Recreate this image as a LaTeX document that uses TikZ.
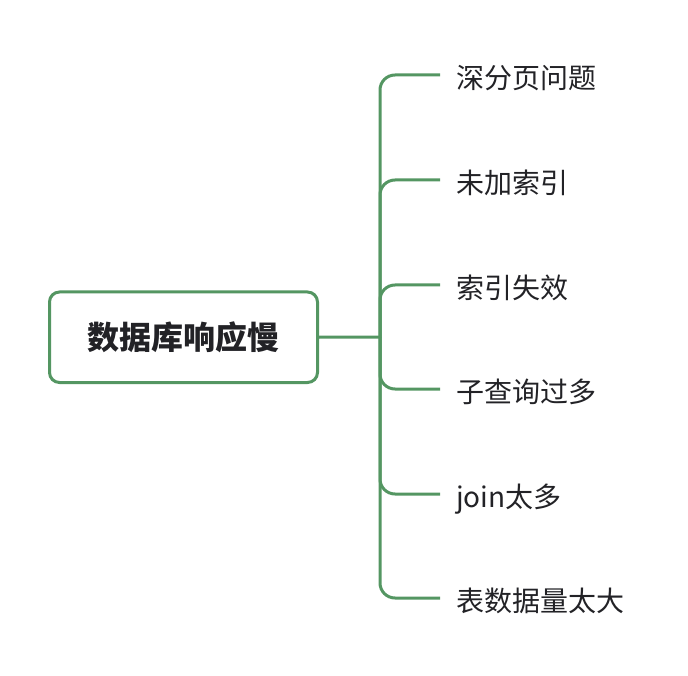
\documentclass[tikz,border=0pt]{standalone}
\usepackage{fontspec}
\newfontfamily\cjk{Noto Sans CJK SC}
\definecolor{branch}{RGB}{84,150,98}
\definecolor{ink}{RGB}{34,34,38}
\begin{document}
\begin{tikzpicture}[x=1pt,y=-1pt,
  rootbox/.style={draw=branch, line width=3pt, rounded corners=10pt, fill=white,
    minimum width=268pt, minimum height=90.5pt, inner sep=0pt,
    font=\cjk\bfseries\fontsize{32}{38}\selectfont, text=ink},
  leaf/.style={anchor=west, inner xsep=16pt, inner ysep=0pt, outer sep=0pt,
    text height=26.6pt, text depth=0pt,
    font=\cjk\fontsize{28}{33}\selectfont, text=ink},
  conn/.style={draw=branch, line width=3pt, rounded corners=15pt}]
\useasboundingbox (0,0) rectangle (688,676);
% central topic
\node[rootbox] (root) at (183.5,337.25) {数据库响应慢};
\coordinate (hub) at (380,337);
% subtopics
\node[leaf] (b1) at (440,75)  {深分页问题};
\node[leaf] (b2) at (440,180) {未加索引};
\node[leaf] (b3) at (440,285) {索引失效};
\node[leaf] (b4) at (440,389) {子查询过多};
\node[leaf] (b5) at (440,494) {join太多};
\node[leaf] (b6) at (440,598) {表数据量太大};
% connectors
\draw[conn] (root.east) -- (hub);
\foreach \i in {1,...,6} \draw[conn] (hub) |- (b\i.west);
\end{tikzpicture}
\end{document}
